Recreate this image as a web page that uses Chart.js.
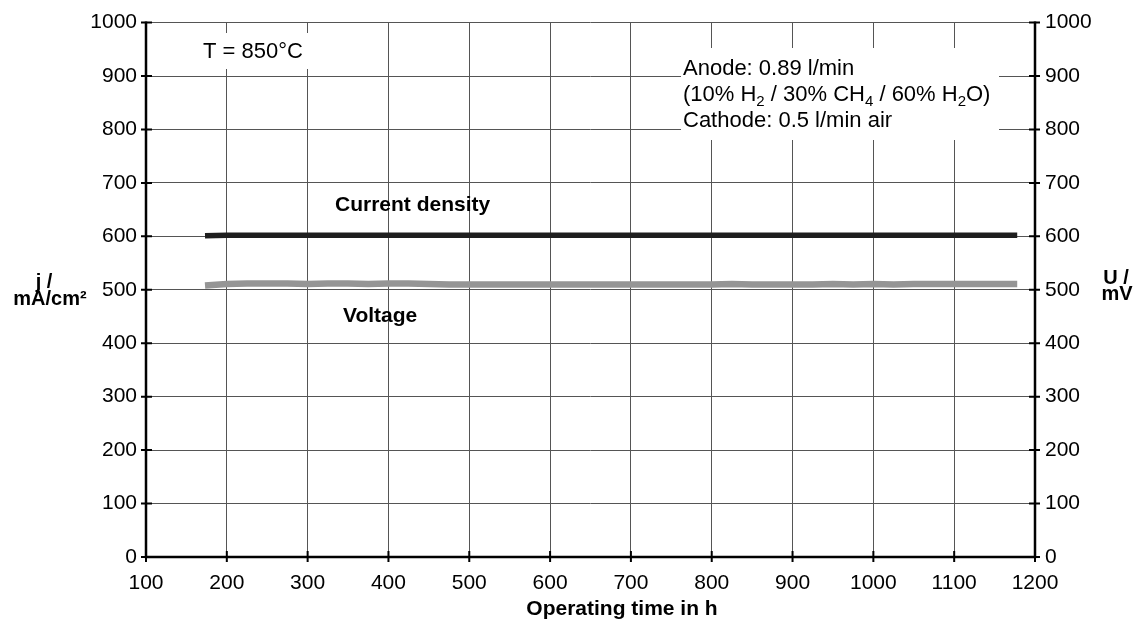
<!DOCTYPE html>
<html>
<head>
<meta charset="utf-8">
<script src="https://cdn.jsdelivr.net/npm/chart.js@4.4.1/dist/chart.umd.min.js"></script>
<style>
  html, body { margin: 0; padding: 0; background: #fff; }
  #wrap { width: 1139px; height: 626px; }
</style>
</head>
<body>
<div id="wrap"><canvas id="chart" width="1139" height="626"></canvas></div>
<script>
// values
const hours = [173, 200, 225, 250, 275, 300, 325, 350, 375, 400, 425, 450, 475, 500, 525, 550, 575, 600,
  625, 650, 675, 700, 725, 750, 775, 800, 825, 850, 875, 900, 925, 950, 975, 1000, 1025, 1050, 1075,
  1100, 1125, 1150, 1178];
const currentDensity = [601, 602, 602, 602, 602, 602, 602, 602, 602, 602, 602, 602, 602, 602, 602, 602, 602, 602,
  602, 602, 602, 602, 602, 602, 602, 602, 602, 602, 602, 602, 602, 602, 602, 602, 602, 602, 602,
  602, 602, 602, 602];
const voltage = [508, 511, 512, 512, 512, 511, 512, 512, 511, 512, 512, 511, 510, 510, 510, 510, 510, 510,
  510, 510, 510, 510, 510, 510, 510, 510, 511, 510, 510, 510, 510, 511, 510, 511, 510, 511, 511,
  511, 511, 511, 511];
const xTicks = [100, 200, 300, 400, 500, 600, 700, 800, 900, 1000, 1100, 1200];
const yTicks = [0, 100, 200, 300, 400, 500, 600, 700, 800, 900, 1000];

const FONT = "'Liberation Sans', Arial, Helvetica, sans-serif";

function runs(ctx, x, y, parts, size) {
  // draws text with subscripts: parts = [[text, isSub], ...]
  let cx = x;
  parts.forEach(p => {
    ctx.font = (p[1] ? Math.round(size * 0.66) : size) + 'px ' + FONT;
    ctx.fillText(p[0], cx, p[1] ? y + 5 : y);
    cx += ctx.measureText(p[0]).width;
  });
}

const extras = {
  id: 'extras',
  afterDraw(chart) {
    const ctx = chart.ctx;
    const a = chart.chartArea;
    const xs = chart.scales.x, ys = chart.scales.y;
    ctx.save();

    // white boxes behind the notes
    ctx.fillStyle = '#fff';
    ctx.fillRect(199, 33, 110, 36);
    ctx.fillRect(681, 48, 318, 92);

    ctx.fillStyle = '#000';
    ctx.textBaseline = 'alphabetic';
    ctx.textAlign = 'left';
    ctx.font = '22px ' + FONT;
    ctx.fillText('T = 850°C', 203, 58);
    ctx.fillText('Anode: 0.89 l/min', 683, 75);
    runs(ctx, 683, 101, [['(10% H', 0], ['2', 1], [' / 30% CH', 0], ['4', 1], [' / 60% H', 0], ['2', 1], ['O)', 0]], 22);
    ctx.font = '22px ' + FONT;
    ctx.fillText('Cathode: 0.5 l/min air', 683, 127);

    ctx.font = 'bold 21px ' + FONT;
    ctx.fillText('Current density', 335, 211);
    ctx.fillText('Voltage', 343, 322);

    ctx.textAlign = 'center';
    ctx.font = 'bold 20px ' + FONT;
    ctx.fillText('j /', 44, 288);
    ctx.fillText('mA/cm²', 50, 305);
    ctx.fillText('U /', 1116, 284);
    ctx.fillText('mV', 1117, 300);
    ctx.font = 'bold 21px ' + FONT;
    ctx.fillText('Operating time in h', 622, 615);

    // heavy axis lines with crossing tick marks
    ctx.strokeStyle = '#000';
    ctx.lineWidth = 2.5;
    ctx.beginPath();
    ctx.moveTo(a.left, a.top - 1); ctx.lineTo(a.left, a.bottom);
    ctx.lineTo(a.right, a.bottom); ctx.lineTo(a.right, a.top - 1);
    ctx.stroke();
    ctx.lineWidth = 2;
    ctx.beginPath();
    yTicks.forEach(v => {
      const py = ys.getPixelForValue(v);
      ctx.moveTo(a.left - 5, py); ctx.lineTo(a.left + 6, py);
      ctx.moveTo(a.right - 6, py); ctx.lineTo(a.right + 5, py);
    });
    xTicks.forEach(v => {
      const px = xs.getPixelForValue(v);
      ctx.moveTo(px, a.bottom - 6); ctx.lineTo(px, a.bottom + 5);
    });
    ctx.stroke();
    ctx.restore();
  }
};

const tickFont = { family: FONT, size: 21 };
const plain = v => String(v);

new Chart(document.getElementById('chart'), {
  type: 'line',
  data: {
    datasets: [
      {
        label: 'Current density',
        data: hours.map((h, i) => ({ x: h, y: currentDensity[i] })),
        borderColor: '#1e1e1e',
        borderWidth: 5.5,
        pointRadius: 0,
        yAxisID: 'y'
      },
      {
        label: 'Voltage',
        data: hours.map((h, i) => ({ x: h, y: voltage[i] })),
        borderColor: '#959595',
        borderWidth: 6.5,
        pointRadius: 0,
        yAxisID: 'y2'
      }
    ]
  },
  options: {
    responsive: false,
    animation: false,
    devicePixelRatio: 1,
    layout: { padding: { top: 20, left: 0, right: 0, bottom: 0 } },
    plugins: { legend: { display: false }, tooltip: { enabled: false } },
    scales: {
      x: {
        type: 'linear', min: 100, max: 1200,
        afterBuildTicks: s => { s.ticks = xTicks.map(v => ({ value: v })); },
        afterFit: s => { s.height = 69; },
        ticks: { font: tickFont, color: '#000', padding: 14, maxRotation: 0, callback: plain },
        grid: { color: '#555', lineWidth: 1, drawTicks: false },
        border: { display: false }
      },
      y: {
        position: 'left', min: 0, max: 1000,
        afterBuildTicks: s => { s.ticks = yTicks.map(v => ({ value: v })); },
        afterFit: s => { s.width = 146; },
        ticks: { font: tickFont, color: '#000', padding: 9, callback: plain },
        grid: { color: '#555', lineWidth: 1, drawTicks: false },
        border: { display: false }
      },
      y2: {
        position: 'right', min: 0, max: 1000,
        afterBuildTicks: s => { s.ticks = yTicks.map(v => ({ value: v })); },
        afterFit: s => { s.width = 104; },
        ticks: { font: tickFont, color: '#000', padding: 10, callback: plain },
        grid: { display: false, drawTicks: false },
        border: { display: false }
      }
    }
  },
  plugins: [extras]
});
</script>
</body>
</html>
